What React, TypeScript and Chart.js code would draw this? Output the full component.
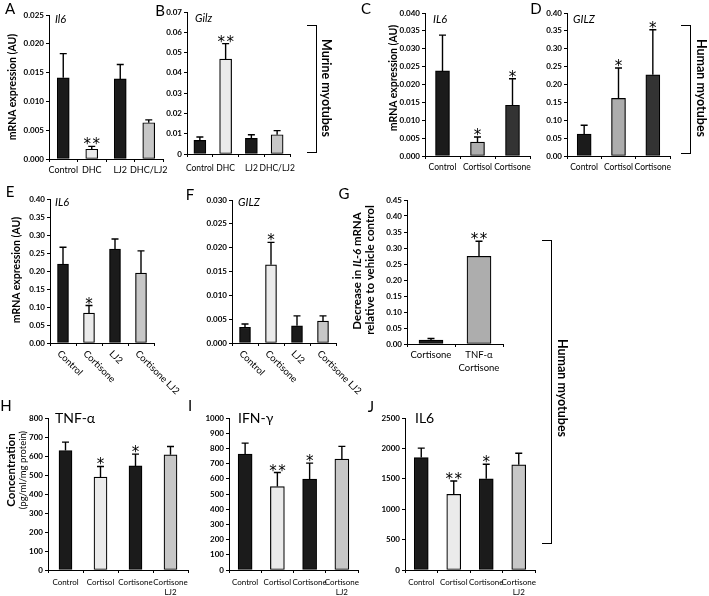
import React, { useEffect, useRef } from "react";
import { Chart, registerables } from "chart.js";

Chart.register(...registerables);

const FONT = "Lato, 'Open Sans', 'DejaVu Sans', sans-serif";
const LAB_FONT = "Lato, 'Open Sans', sans-serif";
const STAR_FONT = "'DejaVu Sans', sans-serif";

// ---------------- data ----------------
const aCategories = ["Control", "DHC", "LJ2", "DHC/LJ2"];
const aValues = [0.0141, 0.0017, 0.0139, 0.0063];
const aErrors = [0.0042, 0.0005, 0.0025, 0.0005];
const aStars = ["", "**", "", ""];
const aTicks = ["0.000", "0.005", "0.010", "0.015", "0.020", "0.025"];

const bCategories = ["Control", "DHC", "LJ2", "DHC/LJ2"];
const bValues = [0.0067, 0.0468, 0.0077, 0.0095];
const bErrors = [0.0017, 0.0076, 0.0018, 0.002];
const bStars = ["", "**", "", ""];
const bTicks = ["0", "0.01", "0.02", "0.03", "0.04", "0.05", "0.06", "0.07"];

const cCategories = ["Control", "Cortisol", "Cortisone"];
const cValues = [0.0238, 0.0039, 0.0142];
const cErrors = [0.01, 0.0014, 0.0074];
const cStars = ["", "*", "*"];
const cTicks = ["0.000", "0.005", "0.010", "0.015", "0.020", "0.025", "0.030", "0.035", "0.040"];

const dCategories = ["Control", "Cortisol", "Cortisone"];
const dValues = [0.061, 0.161, 0.227];
const dErrors = [0.025, 0.085, 0.126];
const dStars = ["", "*", "*"];
const dTicks = ["0.00", "0.05", "0.10", "0.15", "0.20", "0.25", "0.30", "0.35", "0.40"];

const eCategories = ["Control", "Cortisone", "LJ2", "Cortisone LJ2"];
const eValues = [0.219, 0.083, 0.261, 0.194];
const eErrors = [0.047, 0.021, 0.028, 0.062];
const eStars = ["", "*", "", ""];
const eTicks = ["0.00", "0.05", "0.10", "0.15", "0.20", "0.25", "0.30", "0.35", "0.40"];

const fCategories = ["Control", "Cortisone", "LJ2", "Cortisone LJ2"];
const fValues = [0.0033, 0.0164, 0.0036, 0.0046];
const fErrors = [0.0007, 0.0047, 0.0021, 0.0011];
const fStars = ["", "*", "", ""];
const fTicks = ["0.000", "0.005", "0.010", "0.015", "0.020", "0.025", "0.030"];

const gCategories: (string | string[])[] = ["Cortisone", ["TNF-α", "Cortisone"]];
const gValues = [0.012, 0.274];
const gErrors = [0.005, 0.047];
const gStars = ["", "**"];
const gTicks = ["0.00", "0.05", "0.10", "0.15", "0.20", "0.25", "0.30", "0.35", "0.40", "0.45"];

const hCategories: (string | string[])[] = ["Control", "Cortisol", "Cortisone", ["Cortisone", "LJ2"]];
const hValues = [629, 489, 548, 606];
const hErrors = [44, 56, 62, 44];
const hStars = ["", "*", "*", ""];
const hTicks = ["0", "100", "200", "300", "400", "500", "600", "700", "800"];

const iCategories: (string | string[])[] = ["Control", "Cortisol", "Cortisone", ["Cortisone", "LJ2"]];
const iValues = [763, 549, 598, 730];
const iErrors = [72, 92, 105, 83];
const iStars = ["", "**", "*", ""];
const iTicks = ["0", "100", "200", "300", "400", "500", "600", "700", "800", "900", "1000"];

const jCategories: (string | string[])[] = ["Control", "Cortisol", "Cortisone", ["Cortisone", "LJ2"]];
const jValues = [1850, 1245, 1500, 1730];
const jErrors = [155, 220, 240, 190];
const jStars = ["", "**", "*", ""];
const jTicks = ["0", "500", "1000", "1500", "2000", "2500"];

// ---------------- styles ----------------
const BLACK = "#1b1b1b";
const LIGHT = "#ebebeb";
const GRAY = "#c7c7c7";
const MID = "#adadad";
const DARK = "#333333";

const YW = 40;
const PADT = 8;

type PanelDef = {
  key: string;
  cats: (string | string[])[];
  values: number[];
  errors: number[];
  stars: string[];
  ticks: string[];
  colors: string[];
  x0: number;
  x1: number;
  yTop: number;
  yBot: number;
  barW: number;
  labPad: number;
  labSize: number;
  lineH?: number;
  rotated?: boolean;
};

const panels: PanelDef[] = [
  { key: "A", cats: aCategories, values: aValues, errors: aErrors, stars: aStars, ticks: aTicks, colors: [BLACK, LIGHT, BLACK, GRAY], x0: 49, x1: 163, yTop: 15, yBot: 159, barW: 12, labPad: 3, labSize: 9 },
  { key: "B", cats: bCategories, values: bValues, errors: bErrors, stars: bStars, ticks: bTicks, colors: [BLACK, LIGHT, BLACK, GRAY], x0: 187, x1: 290, yTop: 12, yBot: 154, barW: 12, labPad: 6, labSize: 8.5 },
  { key: "C", cats: cCategories, values: cValues, errors: cErrors, stars: cStars, ticks: cTicks, colors: [BLACK, MID, DARK], x0: 425, x1: 530, yTop: 13, yBot: 156, barW: 14, labPad: 3, labSize: 8.5 },
  { key: "D", cats: dCategories, values: dValues, errors: dErrors, stars: dStars, ticks: dTicks, colors: [BLACK, MID, DARK], x0: 567, x1: 670, yTop: 13, yBot: 156, barW: 14, labPad: 3, labSize: 8.5 },
  { key: "E", cats: eCategories, values: eValues, errors: eErrors, stars: eStars, ticks: eTicks, colors: [BLACK, LIGHT, BLACK, GRAY], x0: 50, x1: 154, yTop: 199, yBot: 343, barW: 11, labPad: 3, labSize: 9.5, rotated: true },
  { key: "F", cats: fCategories, values: fValues, errors: fErrors, stars: fStars, ticks: fTicks, colors: [BLACK, LIGHT, BLACK, GRAY], x0: 232, x1: 336, yTop: 200, yBot: 343, barW: 11, labPad: 3, labSize: 9.5, rotated: true },
  { key: "G", cats: gCategories, values: gValues, errors: gErrors, stars: gStars, ticks: gTicks, colors: [BLACK, MID], x0: 407, x1: 503, yTop: 200, yBot: 344, barW: 24, labPad: 2, labSize: 9.5, lineH: 1.35 },
  { key: "H", cats: hCategories, values: hValues, errors: hErrors, stars: hStars, ticks: hTicks, colors: [BLACK, LIGHT, BLACK, GRAY], x0: 48, x1: 188, yTop: 418, yBot: 570, barW: 13, labPad: 5, labSize: 8, lineH: 1.2 },
  { key: "I", cats: iCategories, values: iValues, errors: iErrors, stars: iStars, ticks: iTicks, colors: [BLACK, LIGHT, BLACK, GRAY], x0: 229, x1: 358, yTop: 418, yBot: 570, barW: 14, labPad: 5, labSize: 8, lineH: 1.2 },
  { key: "J", cats: jCategories, values: jValues, errors: jErrors, stars: jStars, ticks: jTicks, colors: [BLACK, LIGHT, BLACK, GRAY], x0: 405, x1: 535, yTop: 418, yBot: 570, barW: 14, labPad: 5, labSize: 8, lineH: 1.2 },
];

// ---------------- plugins ----------------
const errorPlugin = {
  id: "errs",
  afterDatasetsDraw(chart: any, _args: any, opts: any) {
    if (!opts || !opts.errors) return;
    const { ctx } = chart;
    const y = chart.scales.y;
    const meta = chart.getDatasetMeta(0);
    const vals = chart.data.datasets[0].data as number[];
    meta.data.forEach((bar: any, i: number) => {
      const v = vals[i];
      const top = y.getPixelForValue(v);
      const ey = y.getPixelForValue(v + opts.errors[i]);
      const x = bar.x;
      ctx.save();
      ctx.strokeStyle = "#000";
      ctx.lineWidth = 1.4;
      ctx.beginPath();
      ctx.moveTo(x, top);
      ctx.lineTo(x, ey);
      ctx.moveTo(x - 3.5, ey);
      ctx.lineTo(x + 3.5, ey);
      ctx.stroke();
      const s: string = opts.stars[i];
      if (s) {
        ctx.fillStyle = "#000";
        ctx.font = `15px ${STAR_FONT}`;
        ctx.textAlign = "center";
        ctx.textBaseline = "alphabetic";
        const n = s.length;
        for (let k = 0; k < n; k++) {
          const dx = (k - (n - 1) / 2) * 9;
          ctx.fillText("*", x + dx, ey + 3);
        }
      }
      ctx.restore();
    });
  },
};

const rotPlugin = {
  id: "rot",
  afterDraw(chart: any, _args: any, opts: any) {
    if (!opts || !opts.labels) return;
    const { ctx } = chart;
    const xs = chart.scales.x;
    const bottom = chart.chartArea.bottom;
    opts.labels.forEach((lab: string, i: number) => {
      const x = xs.getPixelForValue(i);
      ctx.save();
      ctx.translate(x - 4, bottom + 9);
      ctx.rotate(Math.PI / 4);
      ctx.font = `${opts.size}px ${LAB_FONT}`;
      ctx.fillStyle = "#000";
      ctx.textAlign = "left";
      ctx.textBaseline = "middle";
      ctx.fillText(lab, 0, 0);
      ctx.restore();
    });
  },
};

function BarPanel({ p }: { p: PanelDef }) {
  const ref = useRef<HTMLCanvasElement>(null);
  const padR = p.rotated ? 40 : 14;
  const xh = p.rotated ? 55 : 34;
  const W = YW + (p.x1 - p.x0) + padR;
  const H = PADT + (p.yBot - p.yTop) + xh;
  useEffect(() => {
    if (!ref.current) return;
    const tickVals = p.ticks.map((t) => parseFloat(t));
    const gridOpts = { display: true, drawOnChartArea: false, drawTicks: true, tickLength: 3, color: "#000", lineWidth: 1 };
    const chart = new Chart(ref.current, {
      type: "bar",
      data: {
        labels: p.cats as any,
        datasets: [
          {
            data: p.values,
            backgroundColor: p.colors,
            borderColor: "#000",
            borderWidth: 1.2,
            borderSkipped: false,
            barThickness: p.barW,
          },
        ],
      },
      options: {
        animation: false,
        responsive: false,
        maintainAspectRatio: false,
        events: [],
        layout: { padding: { top: PADT, right: padR, left: 0, bottom: 0 } },
        plugins: {
          legend: { display: false },
          tooltip: { enabled: false },
          errs: { errors: p.errors, stars: p.stars },
          rot: p.rotated ? { labels: p.cats, size: p.labSize } : {},
        } as any,
        scales: {
          x: {
            type: "category",
            offset: true,
            grid: { ...gridOpts, offset: true },
            border: { display: true, color: "#000", width: 1 },
            ticks: {
              display: !p.rotated,
              autoSkip: false,
              maxRotation: 0,
              minRotation: 0,
              color: "#000",
              padding: p.labPad,
              font: { family: LAB_FONT, size: p.labSize, lineHeight: p.lineH || 1.2 },
            },
            afterFit: (s: any) => {
              s.height = xh;
            },
          },
          y: {
            type: "linear",
            min: 0,
            max: tickVals[tickVals.length - 1],
            grid: gridOpts,
            border: { display: true, color: "#000", width: 1 },
            ticks: {
              autoSkip: false,
              color: "#000",
              padding: 2,
              font: { family: FONT, size: 8, weight: "bold" },
              callback: (_v: any, i: number) => p.ticks[i],
            },
            afterBuildTicks: (s: any) => {
              s.ticks = tickVals.map((v) => ({ value: v }));
            },
            afterFit: (s: any) => {
              s.width = YW;
            },
          },
        } as any,
      },
      plugins: [errorPlugin, rotPlugin],
    } as any);
    return () => chart.destroy();
  }, []);
  return (
    <canvas
      ref={ref}
      width={W}
      height={H}
      style={{ position: "absolute", left: p.x0 - YW, top: p.yTop - PADT, width: W, height: H }}
    />
  );
}

const T = ({ x, y, children, style, rot, left }: any) => (
  <div
    style={{
      position: "absolute",
      left: x,
      top: y,
      transform: `translate(${left ? "0" : "-50%"},-50%)${rot ? ` rotate(${rot}deg)` : ""}`,
      whiteSpace: "nowrap",
      lineHeight: 1,
      color: "#000",
      ...style,
    }}
  >
    {children}
  </div>
);

const Bracket = ({ x, y, w, h }: any) => (
  <div
    style={{
      position: "absolute",
      left: x,
      top: y,
      width: w,
      height: h,
      borderTop: "1.5px solid #000",
      borderRight: "1.5px solid #000",
      borderBottom: "1.5px solid #000",
      boxSizing: "border-box",
    }}
  />
);

const letterStyle = { fontSize: 15 };
const geneStyle = { fontSize: 11, fontStyle: "italic" };
const cytoStyle = { fontSize: 14 };
const yTitleStyle = { fontSize: 10.5, fontWeight: "bold" };
const gTitleStyle = { fontSize: 11.5, fontWeight: "bold" };
const brStyle = { fontSize: 12.5, fontWeight: "bold" };

export default function App() {
  return (
    <div
      style={{
        position: "absolute",
        left: 0,
        top: 0,
        width: 709,
        height: 596,
        background: "#fff",
        fontFamily: FONT,
        overflow: "hidden",
      }}
    >
      {panels.map((p) => (
        <BarPanel key={p.key} p={p} />
      ))}

      {/* panel letters */}
      <T x={10} y={8} style={letterStyle}>A</T>
      <T x={160} y={10} style={letterStyle}>B</T>
      <T x={366} y={8} style={letterStyle}>C</T>
      <T x={536} y={8} style={letterStyle}>D</T>
      <T x={10} y={191} style={letterStyle}>E</T>
      <T x={190} y={194} style={letterStyle}>F</T>
      <T x={344} y={193} style={letterStyle}>G</T>
      <T x={6} y={405} style={letterStyle}>H</T>
      <T x={190} y={405} style={letterStyle}>I</T>
      <T x={371} y={406} style={letterStyle}>J</T>

      {/* gene / cytokine names */}
      <T x={55} y={18} left style={geneStyle}>Il6</T>
      <T x={195} y={17} left style={geneStyle}>Gilz</T>
      <T x={433} y={18} left style={geneStyle}>IL6</T>
      <T x={573} y={18} left style={geneStyle}>GILZ</T>
      <T x={55} y={201} left style={geneStyle}>IL6</T>
      <T x={238} y={201} left style={geneStyle}>GILZ</T>
      <T x={55} y={418} left style={cytoStyle}>TNF-α</T>
      <T x={238} y={418} left style={cytoStyle}>IFN-γ</T>
      <T x={415} y={418} left style={cytoStyle}>IL6</T>

      {/* y-axis titles */}
      <T x={12} y={87} rot={-90} style={yTitleStyle}>mRNA expression (AU)</T>
      <T x={393} y={78} rot={-90} style={yTitleStyle}>mRNA expression (AU)</T>
      <T x={16} y={270} rot={-90} style={yTitleStyle}>mRNA expression (AU)</T>
      <T x={357} y={271} rot={-90} style={gTitleStyle}>
        Decrease in <span style={{ fontStyle: "italic" }}>IL-6</span> mRNA
      </T>
      <T x={370} y={270} rot={-90} style={gTitleStyle}>relative to vehicle control</T>
      <T x={11} y={470} rot={-90} style={{ fontSize: 11.5, fontWeight: "bold" }}>Concentration</T>
      <T x={23} y={470} rot={-90} style={{ fontSize: 9.5 }}>(pg/ml/mg protein)</T>

      {/* brackets */}
      <Bracket x={307} y={25} w={10} h={128} />
      <T x={326} y={88} rot={90} style={brStyle}>Murine myotubes</T>
      <Bracket x={681} y={25} w={10} h={129} />
      <T x={701} y={88} rot={90} style={brStyle}>Human myotubes</T>
      <Bracket x={542} y={240} w={10} h={304} />
      <T x={562} y={388} rot={90} style={brStyle}>Human myotubes</T>
    </div>
  );
}
